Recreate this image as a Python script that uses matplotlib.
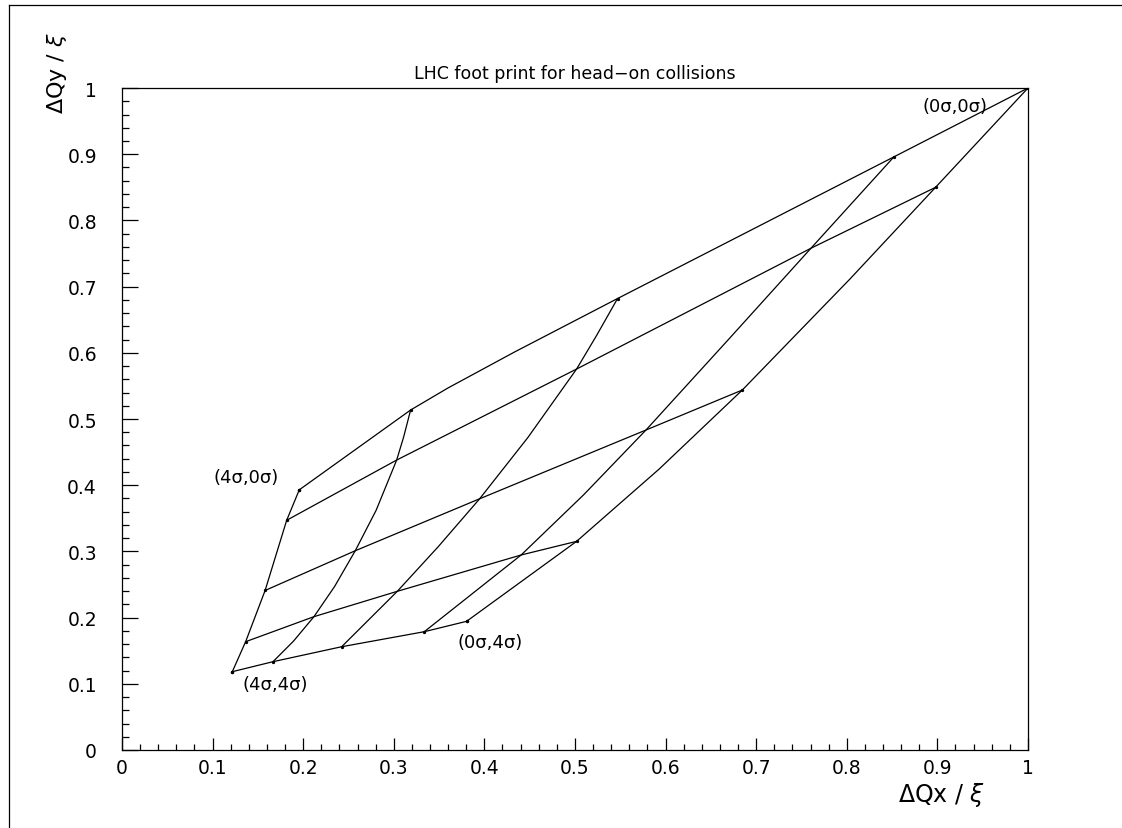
"""
plot.py - LHC tune footprint for head-on collisions (PAW style redraw)

Grid of detuning points dQx/xi, dQy/xi for amplitudes 0..4 sigma in x and y.
Lines of constant x-amplitude and constant y-amplitude are drawn through
the points read off the original plot (nodes plus a few points on the bends).
"""
import matplotlib
matplotlib.use("Agg")
import matplotlib.pyplot as plt
from matplotlib.ticker import MultipleLocator, FuncFormatter

# ----------------------------- data ----------------------------------------
# lines of constant y-amplitude (ay = 0..4 sigma), x-amplitude going 0 -> 4 sigma
AY0_X = [1.0, 0.852, 0.547, 0.433, 0.360, 0.3186, 0.1957]
AY0_Y = [1.0, 0.896, 0.682, 0.601, 0.547, 0.5136, 0.393]
AY1_X = [0.898, 0.7605, 0.5018, 0.3032, 0.1818]
AY1_Y = [0.850, 0.758, 0.5755, 0.438, 0.347]
AY2_X = [0.6847, 0.5784, 0.3948, 0.2575, 0.158]
AY2_Y = [0.5438, 0.4834, 0.3795, 0.301, 0.241]
AY3_X = [0.5018, 0.4406, 0.3039, 0.2119, 0.1365]
AY3_Y = [0.3152, 0.2946, 0.2397, 0.2014, 0.1636]
AY4_X = [0.3804, 0.3337, 0.2425, 0.1667, 0.1218]
AY4_Y = [0.1944, 0.1787, 0.156, 0.1334, 0.1183]

# lines of constant x-amplitude (ax = 0..4 sigma), y-amplitude going 0 -> 4 sigma
AX0_X = [1.0, 0.898, 0.8035, 0.6847, 0.593, 0.5018, 0.3804]
AX0_Y = [1.0, 0.850, 0.7115, 0.5438, 0.4245, 0.3152, 0.1944]
AX1_X = [0.852, 0.7605, 0.669, 0.5784, 0.5095, 0.4406, 0.3337]
AX1_Y = [0.896, 0.758, 0.6195, 0.4834, 0.3854, 0.2946, 0.1787]
AX2_X = [0.547, 0.524, 0.5018, 0.448, 0.3948, 0.349, 0.3039, 0.2425]
AX2_Y = [0.682, 0.6265, 0.5755, 0.472, 0.3795, 0.307, 0.2397, 0.156]
AX3_X = [0.3186, 0.3109, 0.3032, 0.2805, 0.2575, 0.2347, 0.2119, 0.1893, 0.1667]
AX3_Y = [0.5136, 0.4728, 0.438, 0.362, 0.301, 0.247, 0.2014, 0.1644, 0.1334]
AX4_X = [0.1957, 0.1818, 0.158, 0.1365, 0.1218]
AX4_Y = [0.393, 0.347, 0.241, 0.1636, 0.1183]

CORNER_LABELS = ["(0σ,0σ)", "(4σ,0σ)", "(4σ,4σ)", "(0σ,4σ)"]
CORNER_X = [0.919, 0.137, 0.169, 0.406]
CORNER_Y = [0.973, 0.412, 0.100, 0.163]

TITLE  = "LHC foot print for head\u2212on collisions"
XLABEL = "ΔQx / $\\xi$"
YLABEL = "ΔQy / $\\xi$"

# ----------------------------- style ---------------------------------------
FONT = "DejaVu Sans"
LW   = 0.9
INK  = "black"


def fmt_tick(v, _pos):
    return f"{v:.1f}" if 0 < v < 1 else f"{v:g}"


def main():
    plt.rcParams["font.family"] = [FONT]
    fig = plt.figure(figsize=(11.22, 8.29), dpi=100)
    ax = fig.add_axes([0.1087, 0.0941, 0.8075, 0.7985])

    lines = [(AY0_X, AY0_Y), (AY1_X, AY1_Y), (AY2_X, AY2_Y), (AY3_X, AY3_Y),
             (AY4_X, AY4_Y), (AX0_X, AX0_Y), (AX1_X, AX1_Y), (AX2_X, AX2_Y),
             (AX3_X, AX3_Y), (AX4_X, AX4_Y)]
    for xs, ys in lines:
        ax.plot(xs, ys, color=INK, lw=LW)
        ax.plot([xs[0], xs[-1]], [ys[0], ys[-1]], ls="none", marker="o",
                ms=1.4, color=INK)

    for lab, x, y in zip(CORNER_LABELS, CORNER_X, CORNER_Y):
        ax.text(x, y, lab, ha="center", va="center", fontsize=13)

    ax.set_xlim(0, 1)
    ax.set_ylim(0, 1)
    ax.xaxis.set_major_locator(MultipleLocator(0.1))
    ax.xaxis.set_minor_locator(MultipleLocator(0.02))
    ax.yaxis.set_major_locator(MultipleLocator(0.1))
    ax.yaxis.set_minor_locator(MultipleLocator(0.02))
    ax.xaxis.set_major_formatter(FuncFormatter(fmt_tick))
    ax.yaxis.set_major_formatter(FuncFormatter(fmt_tick))
    ax.tick_params(which="both", direction="in", width=LW, labelsize=13.5)
    ax.tick_params(axis="x", which="major", length=8.6, pad=6)
    ax.tick_params(axis="x", which="minor", length=4.3)
    ax.tick_params(axis="y", which="major", length=11.5, pad=18)
    ax.tick_params(axis="y", which="minor", length=5)
    for sp in ax.spines.values():
        sp.set_linewidth(LW)

    ax.set_title(TITLE, fontsize=12.5, pad=7)
    fig.text(985 / 1122, 1 - 795 / 829, XLABEL, ha="right", va="center",
             fontsize=17)
    fig.text(57 / 1122, 1 - 73 / 829, YLABEL, ha="center", va="center",
             rotation=90, fontsize=16)

    # page frame of the original PAW output (left and top edges visible)
    fig.add_artist(plt.Line2D([9 / 1122, 9 / 1122], [0, 1 - 6 / 829],
                              color=INK, lw=LW))
    fig.add_artist(plt.Line2D([9 / 1122, 1], [1 - 6 / 829, 1 - 6 / 829],
                              color=INK, lw=LW))

    fig.savefig("out.png", dpi=100, facecolor="white")


if __name__ == "__main__":
    main()
